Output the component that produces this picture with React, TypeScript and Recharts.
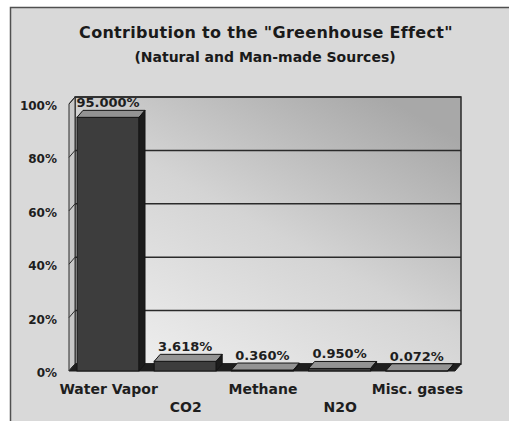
import React from 'react';
import { BarChart, Bar, XAxis, YAxis, CartesianGrid, ReferenceArea } from 'recharts';

const categories = ['Water Vapor', 'CO2', 'Methane', 'N2O', 'Misc. gases'];
const values = [95.0, 3.618, 0.36, 0.95, 0.072];
const yTicks = [0, 20, 40, 60, 80, 100];
const titleText = 'Contribution to the "Greenhouse Effect"';
const subtitleText = '(Natural and Man-made Sources)';

const data = categories.map((name, i) => ({ name, value: values[i] }));

const W = 509;
const H = 421;
const PLOT_LEFT = 75;
const PLOT_TOP = 97;
const PLOT_RIGHT = 461;
const PLOT_BOTTOM = 364;
const DX = 6;
const DY = 7;
const FONT = "'DejaVu Sans', Verdana, sans-serif";

function Bar3D(props: any) {
  const { x, y, width, height } = props;
  if (x == null || y == null) return null;
  const h = Math.max(height || 0, 0);
  const fx = x - DX;
  const fy = y + DY;
  return (
    <g>
      <rect x={fx} y={fy} width={width} height={h} fill="#3d3d3d" stroke="#151515" strokeWidth={1} />
      <polygon
        points={`${fx},${fy} ${fx + width},${fy} ${x + width},${y} ${x},${y}`}
        fill="#939393"
        stroke="#151515"
        strokeWidth={1}
      />
      <polygon
        points={`${fx + width},${fy} ${x + width},${y} ${x + width},${y + h} ${fx + width},${fy + h}`}
        fill="#1c1c1c"
        stroke="#151515"
        strokeWidth={1}
      />
    </g>
  );
}

function ValueLabel(props: any) {
  const { x, y, width, value } = props;
  if (x == null) return null;
  return (
    <text
      x={x - DX + width / 2}
      y={y - 3}
      textAnchor="middle"
      fontFamily={FONT}
      fontWeight="bold"
      fontSize={13}
      fill="#1e1e1e"
    >
      {Number(value).toFixed(3) + '%'}
    </text>
  );
}

function Walls(props: any) {
  const { x, y, width, height } = props;
  if (x == null) return null;
  const b = y + height;
  return (
    <g>
      <rect x={x} y={y} width={width} height={height} fill="none" stroke="#2a2a2a" strokeWidth={1.5} />
      <polygon
        points={`${x},${y} ${x},${b} ${x - DX},${b + DY} ${x - DX},${y + DY}`}
        fill="#c8c8c8"
        stroke="#2a2a2a"
        strokeWidth={1}
      />
      <polygon
        points={`${x},${b} ${x + width},${b} ${x + width - DX},${b + DY} ${x - DX},${b + DY}`}
        fill="#1e1e1e"
        stroke="#1e1e1e"
        strokeWidth={1}
      />
    </g>
  );
}

function YTick(props: any) {
  const { y, payload } = props;
  return (
    <g>
      <line x1={PLOT_LEFT - DX} y1={y + DY} x2={PLOT_LEFT} y2={y} stroke="#2a2a2a" strokeWidth={1} />
      <text x={57} y={y + 13} textAnchor="end" fontFamily={FONT} fontWeight="bold" fontSize={12} fill="#1e1e1e">
        {payload.value + '%'}
      </text>
    </g>
  );
}

function XTick(props: any) {
  const { x, payload, index } = props;
  const baseline = index % 2 === 0 ? 394 : 412;
  return (
    <text x={x - 5} y={baseline} textAnchor="middle" fontFamily={FONT} fontWeight="bold" fontSize={14} fill="#1e1e1e">
      {payload.value}
    </text>
  );
}

export default function App() {
  return (
    <div style={{ position: 'absolute', left: 0, top: 0, width: W, height: H, background: '#ffffff', overflow: 'hidden' }}>
      <svg width={W} height={H} style={{ position: 'absolute', left: 0, top: 0 }}>
        <rect x={10.5} y={7.5} width={530} height={440} fill="#d9d9d9" stroke="#505050" strokeWidth={1.5} />
        <text
          x={266}
          y={38}
          textAnchor="middle"
          fontFamily={FONT}
          fontWeight="bold"
          fontSize={16}
          letterSpacing={0.3}
          fill="#1a1a1a"
        >
          {titleText}
        </text>
        <text x={265} y={62} textAnchor="middle" fontFamily={FONT} fontWeight="bold" fontSize={14} fill="#1a1a1a">
          {subtitleText}
        </text>
      </svg>
      <div style={{ position: 'absolute', left: 0, top: 0 }}>
        <BarChart
          width={W}
          height={H}
          data={data}
          margin={{ top: PLOT_TOP, right: W - PLOT_RIGHT, bottom: 0, left: 0 }}
          barSize={62}
        >
          <defs>
            <linearGradient id="wallGrad" x1="0" y1="1" x2="0.8" y2="0">
              <stop offset="0%" stopColor="#f2f2f2" />
              <stop offset="55%" stopColor="#d4d4d4" />
              <stop offset="100%" stopColor="#a8a8a8" />
            </linearGradient>
          </defs>
          <CartesianGrid
            vertical={false}
            stroke="#2a2a2a"
            strokeWidth={1.5}
            fill="url(#wallGrad)"
            fillOpacity={1}
          />
          <XAxis
            dataKey="name"
            height={H - PLOT_BOTTOM}
            interval={0}
            tickLine={false}
            axisLine={false}
            tick={<XTick />}
          />
          <YAxis
            width={PLOT_LEFT}
            domain={[0, 100]}
            ticks={yTicks}
            tickLine={false}
            axisLine={false}
            tick={<YTick />}
          />
          <ReferenceArea y1={0} y2={100} ifOverflow="visible" shape={<Walls />} />
          <Bar dataKey="value" isAnimationActive={false} shape={<Bar3D />} label={<ValueLabel />} />
        </BarChart>
      </div>
    </div>
  );
}
